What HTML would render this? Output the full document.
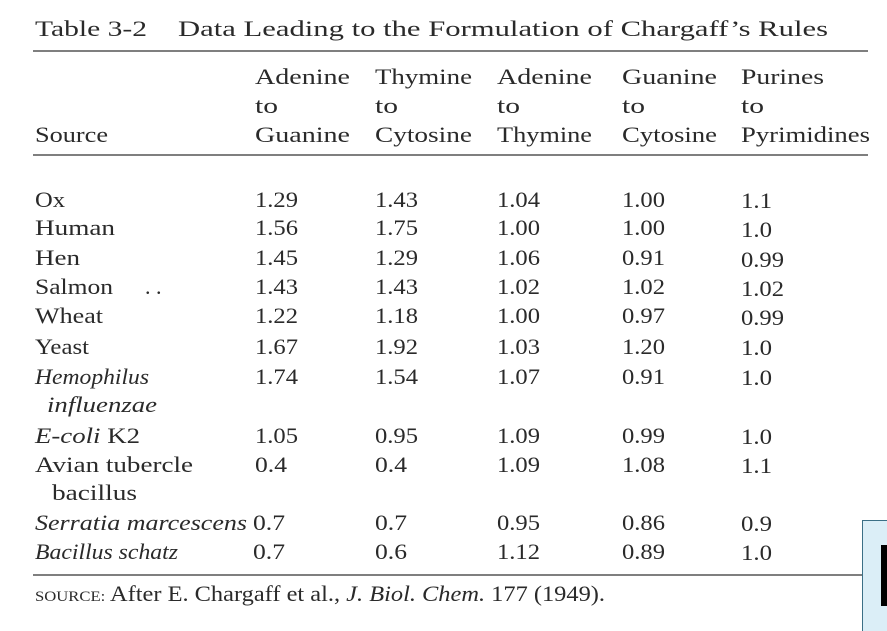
<!DOCTYPE html>
<html><head><meta charset="utf-8"><style>
html,body{margin:0;padding:0;background:#fff;width:887px;height:631px;overflow:hidden}
svg{display:block}
text{font-family:"Liberation Serif",serif;fill:#2a2a2a;font-size:22px}
.i{font-style:italic}
</style></head><body>
<svg width="887" height="631" viewBox="0 0 887 631">
<text x="35" y="36" font-size="24" textLength="112" lengthAdjust="spacingAndGlyphs">Table 3-2</text>
<text x="178" y="36" font-size="24" textLength="650" lengthAdjust="spacingAndGlyphs">Data Leading to the Formulation of Chargaff’s Rules</text>
<line x1="33" y1="51" x2="868" y2="51" stroke="#555" stroke-width="1.5"/>
<line x1="33" y1="155" x2="868" y2="155" stroke="#555" stroke-width="1.5"/>
<line x1="33" y1="575" x2="862" y2="575" stroke="#555" stroke-width="1.5"/>
<g lengthAdjust="spacingAndGlyphs">
<text x="255" y="84" textLength="95" lengthAdjust="spacingAndGlyphs">Adenine</text><text x="375" y="84" textLength="97" lengthAdjust="spacingAndGlyphs">Thymine</text><text x="497" y="84" textLength="95" lengthAdjust="spacingAndGlyphs">Adenine</text><text x="622" y="84" textLength="95" lengthAdjust="spacingAndGlyphs">Guanine</text><text x="741" y="84" textLength="83" lengthAdjust="spacingAndGlyphs">Purines</text>
<text x="255" y="113" textLength="23" lengthAdjust="spacingAndGlyphs">to</text><text x="375" y="113" textLength="23" lengthAdjust="spacingAndGlyphs">to</text><text x="497" y="113" textLength="23" lengthAdjust="spacingAndGlyphs">to</text><text x="622" y="113" textLength="23" lengthAdjust="spacingAndGlyphs">to</text><text x="741" y="113" textLength="23" lengthAdjust="spacingAndGlyphs">to</text>
<text x="35" y="142" textLength="73" lengthAdjust="spacingAndGlyphs">Source</text>
<text x="255" y="142" textLength="95" lengthAdjust="spacingAndGlyphs">Guanine</text><text x="375" y="142" textLength="97" lengthAdjust="spacingAndGlyphs">Cytosine</text><text x="497" y="142" textLength="95" lengthAdjust="spacingAndGlyphs">Thymine</text><text x="622" y="142" textLength="95" lengthAdjust="spacingAndGlyphs">Cytosine</text><text x="741" y="142" textLength="129" lengthAdjust="spacingAndGlyphs">Pyrimidines</text>
</g>
<g>
<text x="35" y="207" textLength="30" lengthAdjust="spacingAndGlyphs">Ox</text><text x="255" y="207" textLength="43" lengthAdjust="spacingAndGlyphs">1.29</text><text x="375" y="207" textLength="43" lengthAdjust="spacingAndGlyphs">1.43</text><text x="497" y="207" textLength="43" lengthAdjust="spacingAndGlyphs">1.04</text><text x="622" y="207" textLength="43" lengthAdjust="spacingAndGlyphs">1.00</text><text x="741" y="208" textLength="31" lengthAdjust="spacingAndGlyphs">1.1</text>
<text x="35" y="235" textLength="80" lengthAdjust="spacingAndGlyphs">Human</text><text x="255" y="235" textLength="43" lengthAdjust="spacingAndGlyphs">1.56</text><text x="375" y="235" textLength="43" lengthAdjust="spacingAndGlyphs">1.75</text><text x="497" y="235" textLength="43" lengthAdjust="spacingAndGlyphs">1.00</text><text x="622" y="235" textLength="43" lengthAdjust="spacingAndGlyphs">1.00</text><text x="741" y="237" textLength="31" lengthAdjust="spacingAndGlyphs">1.0</text>
<text x="35" y="265" textLength="45" lengthAdjust="spacingAndGlyphs">Hen</text><text x="255" y="265" textLength="43" lengthAdjust="spacingAndGlyphs">1.45</text><text x="375" y="265" textLength="43" lengthAdjust="spacingAndGlyphs">1.29</text><text x="497" y="265" textLength="43" lengthAdjust="spacingAndGlyphs">1.06</text><text x="622" y="265" textLength="43" lengthAdjust="spacingAndGlyphs">0.91</text><text x="741" y="267" textLength="43" lengthAdjust="spacingAndGlyphs">0.99</text>
<text x="35" y="294" textLength="78" lengthAdjust="spacingAndGlyphs">Salmon</text><text x="145" y="294">. .</text><text x="255" y="294" textLength="43" lengthAdjust="spacingAndGlyphs">1.43</text><text x="375" y="294" textLength="43" lengthAdjust="spacingAndGlyphs">1.43</text><text x="497" y="294" textLength="43" lengthAdjust="spacingAndGlyphs">1.02</text><text x="622" y="294" textLength="43" lengthAdjust="spacingAndGlyphs">1.02</text><text x="741" y="296" textLength="43" lengthAdjust="spacingAndGlyphs">1.02</text>
<text x="35" y="323" textLength="68" lengthAdjust="spacingAndGlyphs">Wheat</text><text x="255" y="323" textLength="43" lengthAdjust="spacingAndGlyphs">1.22</text><text x="375" y="323" textLength="43" lengthAdjust="spacingAndGlyphs">1.18</text><text x="497" y="323" textLength="43" lengthAdjust="spacingAndGlyphs">1.00</text><text x="622" y="323" textLength="43" lengthAdjust="spacingAndGlyphs">0.97</text><text x="741" y="325" textLength="43" lengthAdjust="spacingAndGlyphs">0.99</text>
<text x="35" y="354" textLength="54" lengthAdjust="spacingAndGlyphs">Yeast</text><text x="255" y="354" textLength="43" lengthAdjust="spacingAndGlyphs">1.67</text><text x="375" y="354" textLength="43" lengthAdjust="spacingAndGlyphs">1.92</text><text x="497" y="354" textLength="43" lengthAdjust="spacingAndGlyphs">1.03</text><text x="622" y="354" textLength="43" lengthAdjust="spacingAndGlyphs">1.20</text><text x="741" y="355" textLength="31" lengthAdjust="spacingAndGlyphs">1.0</text>
<text x="35" y="384" class="i" textLength="114" lengthAdjust="spacingAndGlyphs">Hemophilus</text><text x="255" y="384" textLength="43" lengthAdjust="spacingAndGlyphs">1.74</text><text x="375" y="384" textLength="43" lengthAdjust="spacingAndGlyphs">1.54</text><text x="497" y="384" textLength="43" lengthAdjust="spacingAndGlyphs">1.07</text><text x="622" y="384" textLength="43" lengthAdjust="spacingAndGlyphs">0.91</text><text x="741" y="385" textLength="31" lengthAdjust="spacingAndGlyphs">1.0</text>
<text x="47" y="412" class="i" textLength="110" lengthAdjust="spacingAndGlyphs">influenzae</text>
<text x="35" y="443" textLength="105" lengthAdjust="spacingAndGlyphs"><tspan class="i">E-coli</tspan> K2</text><text x="255" y="443" textLength="43" lengthAdjust="spacingAndGlyphs">1.05</text><text x="375" y="443" textLength="43" lengthAdjust="spacingAndGlyphs">0.95</text><text x="497" y="443" textLength="43" lengthAdjust="spacingAndGlyphs">1.09</text><text x="622" y="443" textLength="43" lengthAdjust="spacingAndGlyphs">0.99</text><text x="741" y="444" textLength="31" lengthAdjust="spacingAndGlyphs">1.0</text>
<text x="35" y="472" textLength="158" lengthAdjust="spacingAndGlyphs">Avian tubercle</text><text x="255" y="472" textLength="32" lengthAdjust="spacingAndGlyphs">0.4</text><text x="375" y="472" textLength="32" lengthAdjust="spacingAndGlyphs">0.4</text><text x="497" y="472" textLength="43" lengthAdjust="spacingAndGlyphs">1.09</text><text x="622" y="472" textLength="43" lengthAdjust="spacingAndGlyphs">1.08</text><text x="741" y="473" textLength="31" lengthAdjust="spacingAndGlyphs">1.1</text>
<text x="52" y="500" textLength="85" lengthAdjust="spacingAndGlyphs">bacillus</text>
<text x="35" y="530" class="i" textLength="212" lengthAdjust="spacingAndGlyphs">Serratia marcescens</text><text x="253" y="530" textLength="32" lengthAdjust="spacingAndGlyphs">0.7</text><text x="375" y="530" textLength="32" lengthAdjust="spacingAndGlyphs">0.7</text><text x="497" y="530" textLength="43" lengthAdjust="spacingAndGlyphs">0.95</text><text x="622" y="530" textLength="43" lengthAdjust="spacingAndGlyphs">0.86</text><text x="741" y="531" textLength="31" lengthAdjust="spacingAndGlyphs">0.9</text>
<text x="35" y="559" class="i" textLength="143" lengthAdjust="spacingAndGlyphs">Bacillus schatz</text><text x="253" y="559" textLength="32" lengthAdjust="spacingAndGlyphs">0.7</text><text x="375" y="559" textLength="32" lengthAdjust="spacingAndGlyphs">0.6</text><text x="497" y="559" textLength="43" lengthAdjust="spacingAndGlyphs">1.12</text><text x="622" y="559" textLength="43" lengthAdjust="spacingAndGlyphs">0.89</text><text x="741" y="560" textLength="31" lengthAdjust="spacingAndGlyphs">1.0</text>
</g>
<text x="35" y="601" font-size="20" textLength="570" lengthAdjust="spacingAndGlyphs"><tspan font-size="15">SOURCE:</tspan> After E. Chargaff et al., <tspan class="i">J. Biol. Chem.</tspan> 177 (1949).</text>
<rect x="862.5" y="520.5" width="30" height="120" fill="#dbeef7" stroke="#3b6f86" stroke-width="1"/>
<rect x="881" y="545" width="6" height="61" fill="#000"/>
</svg>
</body></html>
